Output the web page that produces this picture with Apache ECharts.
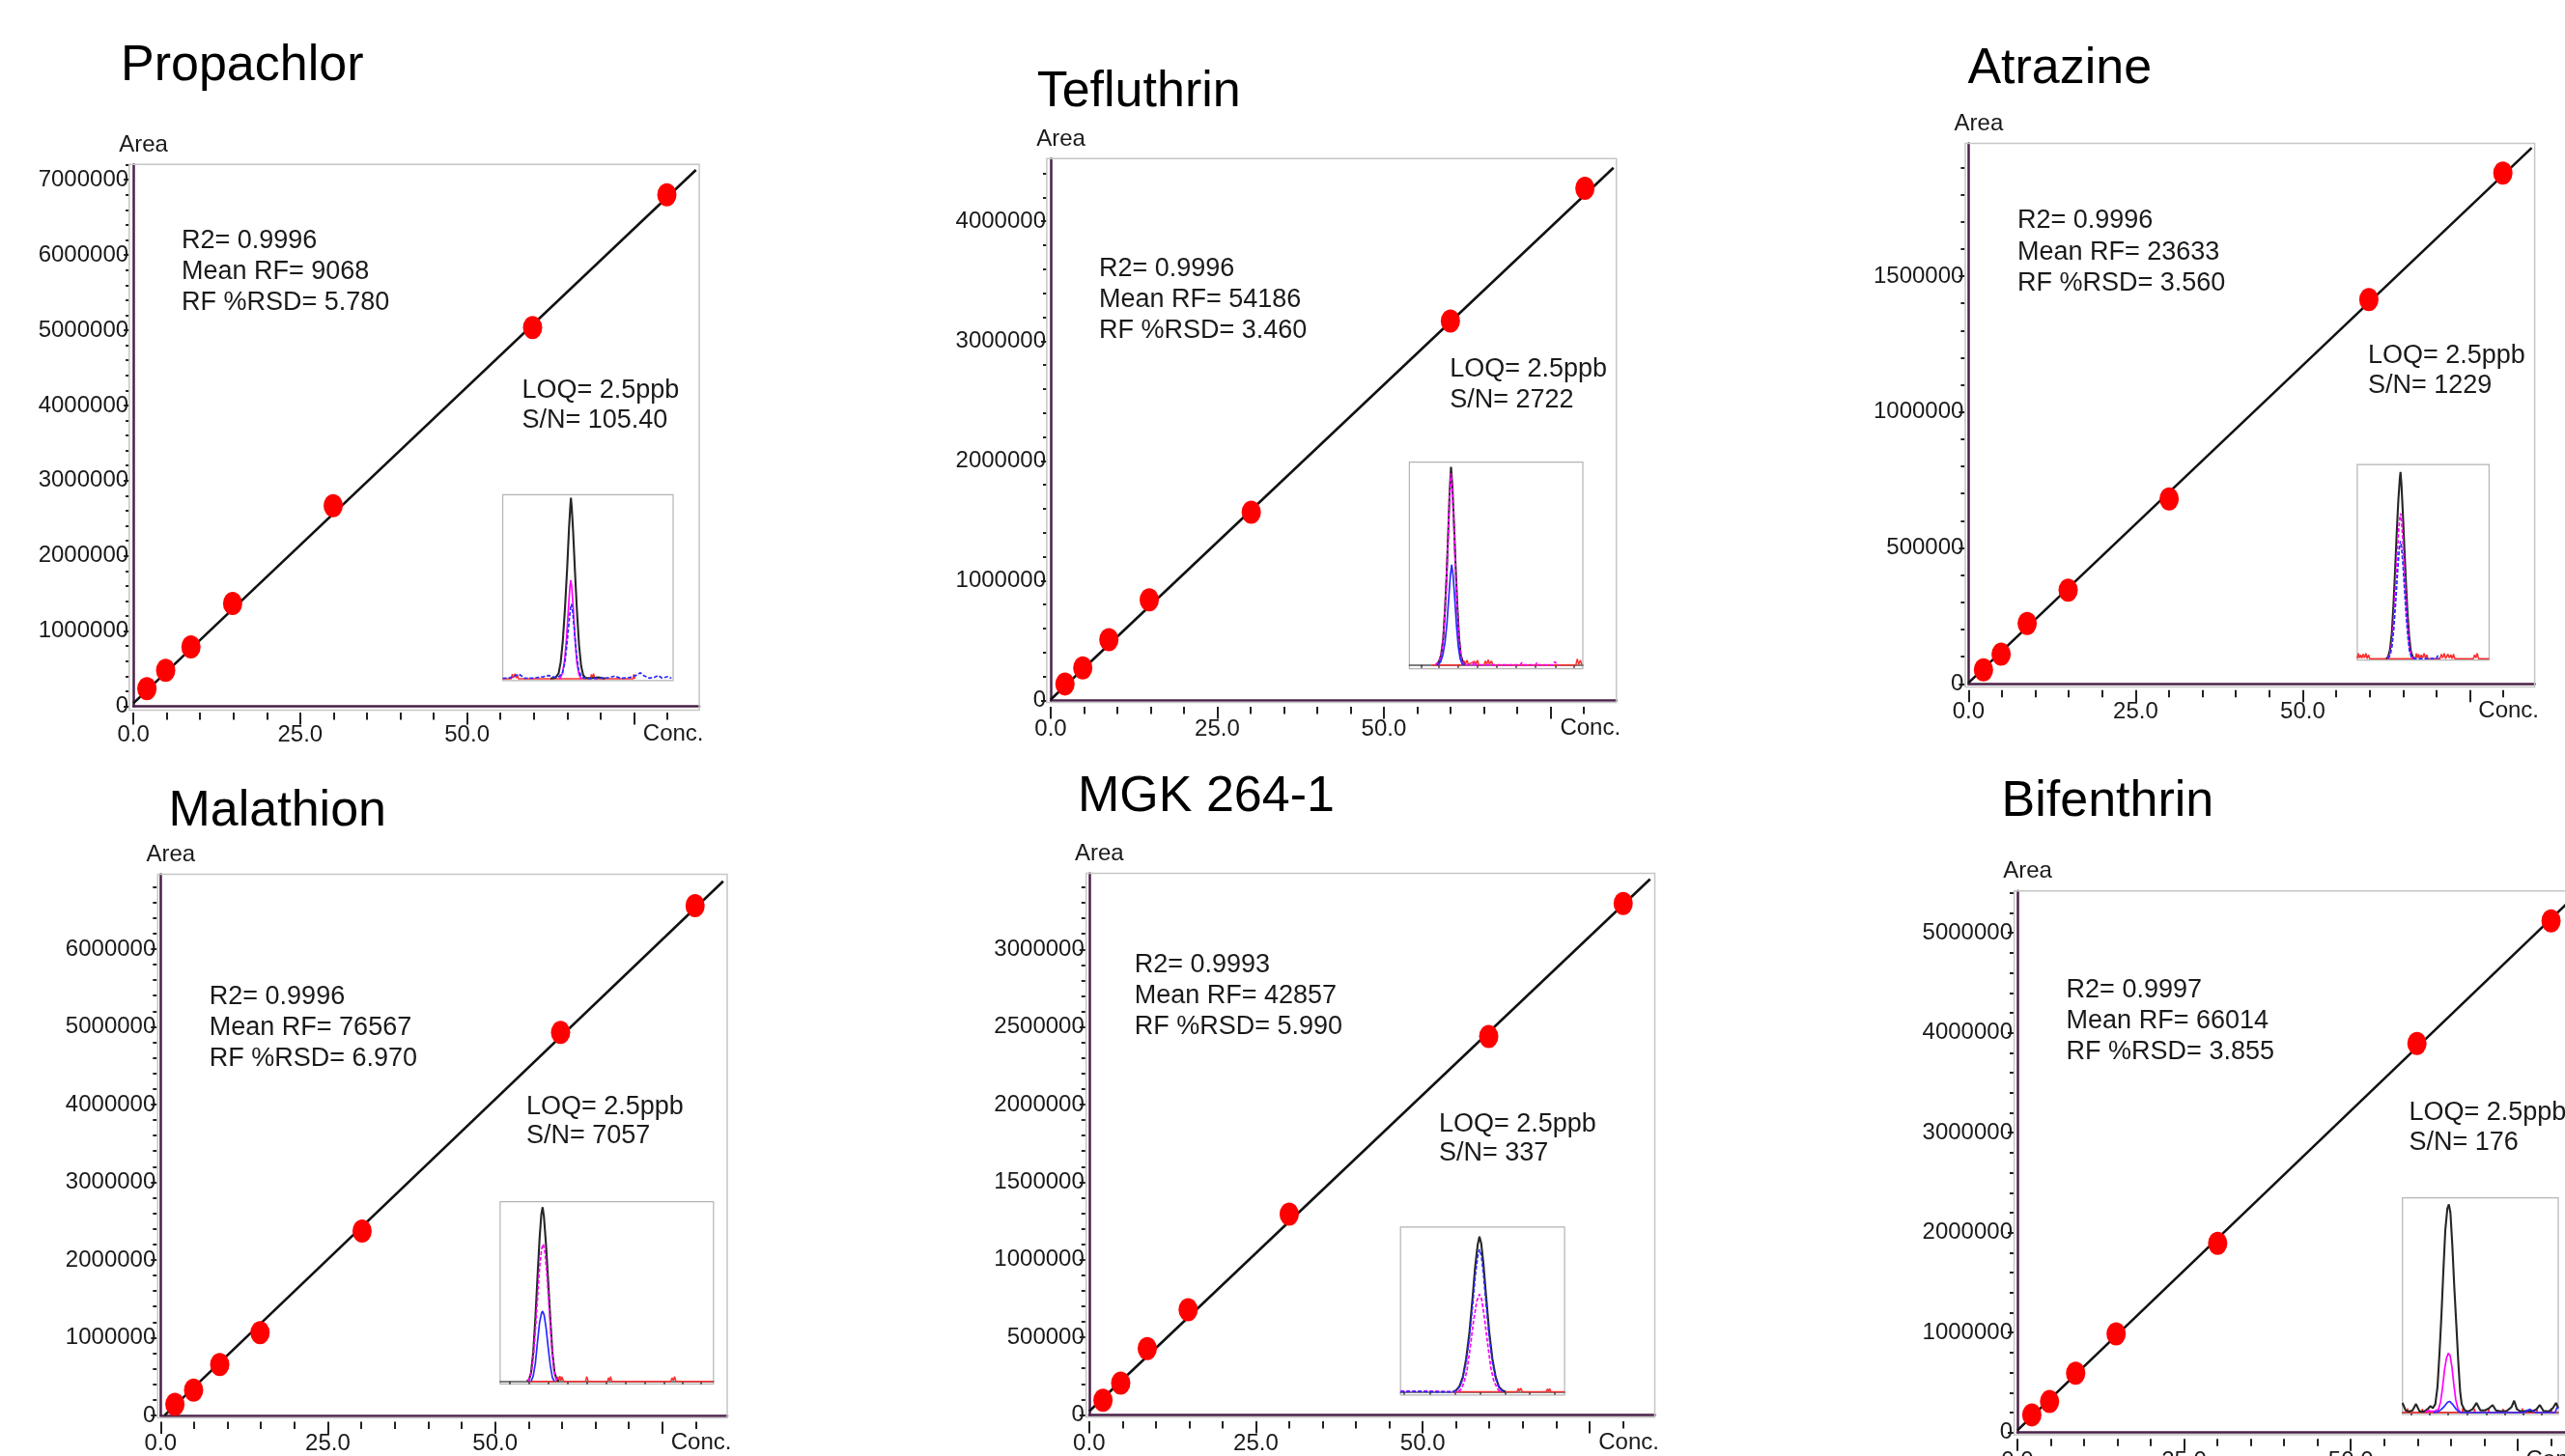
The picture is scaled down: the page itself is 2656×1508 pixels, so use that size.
<!DOCTYPE html>
<html>
<head>
<meta charset="utf-8">
<script src="https://cdn.jsdelivr.net/npm/echarts/dist/echarts.min.js"></script>
<style>html,body{margin:0;padding:0;background:#fff;}#chart{width:2656px;height:1508px;}</style>
</head>
<body>
<div id="chart"></div>
<script>
// ---------------- DATA ----------------
const compounds = ['Propachlor', 'Tefluthrin', 'Atrazine', 'Malathion', 'MGK 264-1', 'Bifenthrin'];

const concPropachlor = [2.03, 4.84, 8.63, 14.87, 29.94, 59.82, 79.94];
const areaPropachlor = [233000, 479000, 790000, 1366000, 2668000, 5036000, 6800000];
const fitPropachlor = [[0, 40000], [84.3, 7130000]];
const statsPropachlor = ['R2= 0.9996', 'Mean RF= 9068', 'RF %RSD= 5.780'];
const loqPropachlor = ['LOQ= 2.5ppb', 'S/N= 105.40'];

const concTefluthrin = [2.14, 4.81, 8.73, 14.79, 30.10, 59.99, 80.18];
const areaTefluthrin = [138000, 272000, 508000, 841000, 1572000, 3168000, 4276000];
const fitTefluthrin = [[0, 8000], [84.47, 4447000]];
const statsTefluthrin = ['R2= 0.9996', 'Mean RF= 54186', 'RF %RSD= 3.460'];
const loqTefluthrin = ['LOQ= 2.5ppb', 'S/N= 2722'];

const concAtrazine = [2.23, 4.87, 8.77, 14.90, 30.01, 59.89, 79.94];
const areaAtrazine = [52000, 109000, 222000, 345000, 680000, 1414000, 1879000];
const fitAtrazine = [[0, 4000], [84.26, 1972000]];
const statsAtrazine = ['R2= 0.9996', 'Mean RF= 23633', 'RF %RSD= 3.560'];
const loqAtrazine = ['LOQ= 2.5ppb', 'S/N= 1229'];

const concMalathion = [2.14, 4.93, 8.84, 14.87, 30.12, 59.79, 79.90];
const areaMalathion = [142000, 324000, 654000, 1064000, 2372000, 4926000, 6559000];
const fitMalathion = [[0.6, 0], [84.1, 6871000]];
const statsMalathion = ['R2= 0.9996', 'Mean RF= 76567', 'RF %RSD= 6.970'];
const loqMalathion = ['LOQ= 2.5ppb', 'S/N= 7057'];

const concMGK = [2.07, 4.73, 8.71, 14.84, 29.99, 59.90, 80.06];
const areaMGK = [94000, 205000, 427000, 678000, 1293000, 2439000, 3296000];
const fitMGK = [[0, 23000], [84.1, 3453000]];
const statsMGK = ['R2= 0.9993', 'Mean RF= 42857', 'RF %RSD= 5.990'];
const loqMGK = ['LOQ= 2.5ppb', 'S/N= 337'];

const concBifenthrin = [2.16, 4.82, 8.73, 14.80, 30.03, 59.92, 80.03];
const areaBifenthrin = [177000, 310000, 593000, 987000, 1894000, 3894000, 5119000];
const fitBifenthrin = [[0, 22000], [84.7, 5440000]];
const statsBifenthrin = ['R2= 0.9997', 'Mean RF= 66014', 'RF %RSD= 3.855'];
const loqBifenthrin = ['LOQ= 2.5ppb', 'S/N= 176'];

// axes
const xTickValues = [0, 25, 50];
const xTickLabels = ['0.0', '25.0', '50.0'];
const xMajorTicks = [0, 25, 50, 75];
const xMinorStep = 5;
const xAxisName = 'Conc.';
const yAxisName = 'Area';
const xMaxes = [84.8, 84.9, 84.7, 84.7, 84.8, 84.7];
const yMaxes = [7204000, 4524000, 1988000, 6963000, 3490000, 5419000];
const yIntervals = [1000000, 1000000, 500000, 1000000, 500000, 1000000];

// inset chromatograms (normalised time 0-100, intensity 0-100)
const redPropachlor = [[0,0],[5,0],[5.6,2.6],[6.2,0.4],[7.2,2.8],[8,0.4],[8.6,2.2],[9.2,0],[51.5,0],[52,2.5],[52.6,0.4],[53.3,2.8],[54,0],[76.5,0],[77,2.4],[77.6,0]];
const blackPropachlor = [[28,0.2],[31,0.6],[32.8,3],[34,9],[35.2,20],[36.5,38],[37.8,60],[38.9,82],[39.6,93],[40,98.3],[40.5,93],[41.3,80],[42.4,58],[43.6,36],[44.8,18],[46,7],[47.2,2],[48.5,0.6],[52,0.3],[56,0.8],[60,0.2]];
const magentaPropachlor = [[33.5,0],[35,3],[36.3,10],[37.5,23],[38.6,39],[39.4,50],[39.9,53.6],[40.5,50],[41.4,38],[42.4,22],[43.5,9],[44.7,2.5],[46,0]];
const bluePropachlor = [[0,0.3],[4,0.5],[7,1.5],[9.4,2.6],[11,1.6],[13,0.3],[18,0.4],[21,0.8],[24,1.2],[27,1.8],[30,0.9],[33,1.2],[35,3],[36.5,9],[37.8,20],[39,32],[39.8,38.5],[40.3,40.7],[41,37],[42,27],[43.2,14],[44.5,5],[46,1.2],[48,0.3],[55,0.2],[62,0.6],[65.8,1.5],[69,0.3],[74,0.6],[78,1.8],[80.8,3.3],[83,1.6],[86,0.4],[89,0.8],[91.2,1.8],[93.5,0.4],[96.8,1.2],[99,0.3]];

const redTefluthrin = [[13,0],[30.8,0],[31.5,2],[32.3,0.4],[33.2,2.4],[34,0.3],[35,0],[37.5,1.8],[38.3,0.4],[39.2,2.4],[40,0],[43,0],[43.8,2],[44.6,0.4],[45.4,2.6],[46.2,0.3],[47.3,2],[48.2,0],[96,0],[96.8,3],[97.6,0.3],[98.6,2.4],[99.4,0]];
const blackTefluthrin = [[15.5,0],[17,1.5],[18.3,5],[19.5,13],[20.5,27],[21.5,45],[22.4,66],[23.2,85],[24,97.6],[24.8,88],[25.7,70],[26.6,50],[27.6,30],[28.6,14],[29.6,5],[30.8,1.5],[32,0]];
const magentaTefluthrin = [[15,0],[16.8,1.5],[18.2,4.5],[19.4,12],[20.4,25],[21.4,42],[22.3,63],[23.1,82],[24,94.5],[24.8,85],[25.7,67],[26.6,47],[27.6,28],[28.6,13],[29.6,4.5],[30.8,1.2],[32,0],[36.5,0],[37.2,1.5],[38,0],[64,0],[64.8,1.2],[65.6,0],[72.8,0],[73.4,1],[74,0],[82.8,0],[83.8,1.6],[84.8,0.6],[86,0]];
const blueTefluthrin = [[16.5,0],[18,1.5],[19.3,5],[20.5,11],[21.6,20],[22.6,32],[23.6,44],[24.4,49.4],[25.2,44],[26.2,32],[27.2,19],[28.2,9],[29.3,3],[30.5,0.5],[31.5,0]];

const redAtrazine = [[0,0],[0.8,2.8],[1.6,0.4],[2.6,2],[3.4,0.2],[4.6,2.4],[5.4,0.4],[6.6,2.8],[7.4,0],[8.6,2],[9.4,0],[44,0],[44.8,2.8],[45.6,0.4],[46.6,2.4],[47.4,0],[48.6,2],[49.6,0.4],[50.8,2.8],[51.8,0],[52.8,2],[53.6,0],[62.8,0],[63.8,2.4],[64.8,0.4],[66,2.8],[67,0],[68.8,2.4],[69.8,0.4],[71,2],[72,0],[73,2.4],[74,0],[88,0],[89,2],[90,0.4],[91,2.8],[92,0],[100,0]];
const blackAtrazine = [[22,0],[23.4,1],[24.8,4.5],[26.2,13],[27.5,28],[28.8,47],[30,66],[31.2,82],[32.2,92],[32.8,96.2],[33.5,90],[34.5,76],[35.6,59],[36.8,41],[38,25],[39.3,12],[40.6,4],[42,1],[43.5,0]];
const magentaAtrazine = [[23,0],[24.5,2],[26,7],[27.4,18],[28.8,35],[30.2,53],[31.5,67],[32.4,73],[32.9,74.8],[33.6,71],[34.6,60],[35.8,45],[37,30],[38.3,16],[39.6,6],[41,1.5],[42.5,0]];
const blueAtrazine = [[23.5,0],[25,2],[26.4,6.5],[27.8,16],[29.2,30],[30.6,45],[31.8,56],[32.7,60.6],[33.5,58],[34.6,49],[35.8,36],[37,23],[38.3,12],[39.6,4],[41,1],[42.5,0],[60,0],[61,1.5],[62,0]];

const redMalathion = [[13.9,0],[26.5,0],[27,2.5],[27.5,0.5],[28,3],[28.5,0.5],[29,2.5],[29.7,0],[40,0],[40.6,2.7],[41.3,0],[50.3,0],[50.8,2],[51.3,0.5],[51.8,2.7],[52.3,0],[80,0],[80.6,2],[81.2,0.5],[81.8,2.7],[82.4,0],[99.7,0]];
const blackMalathion = [[12.5,0],[13.6,1],[14.5,5],[15.5,16],[16.5,35],[17.5,58],[18.5,80],[19.3,93],[19.9,97],[20.5,92],[21.5,76],[22.5,56],[23.5,35],[24.5,16],[25.5,5],[26.5,1],[27.5,0]];
const magentaMalathion = [[13,0],[14.5,4],[15.5,13],[16.5,28],[17.5,46],[18.5,64],[19.5,74],[20.2,76.5],[21,72],[22,58],[23,40],[24,22],[25,8],[26,2],[27,0]];
const blueMalathion = [[14.5,0],[15.5,3],[16.5,10],[17.5,22],[18.5,33],[19.4,38],[19.9,39.1],[20.6,37],[21.5,30],[22.5,19],[23.5,9],[24.5,2],[25.5,0]];

const redMGK = [[33,0],[71,0],[71.8,2],[72.5,0.5],[73.3,2.2],[74.3,0],[88.9,0],[89.5,1.8],[90.2,0.4],[90.9,2],[91.5,0],[100,0]];
const blackMGK = [[32,0],[34,1],[36,3.5],[38,9],[40,20],[42,36],[44,58],[45.5,76],[47,89],[48.1,94.2],[49.2,90],[50.5,78],[52,60],[54,37],[56,20],[58,9],[60,3],[62,1],[64,0]];
const magentaMGK = [[0,0.5],[8,0.3],[16,0.5],[24,0.3],[34,0],[36.4,1],[38.5,5],[40.5,13],[42.5,27],[44.5,43],[46.5,55],[48,59.2],[49.5,56],[51,46],[53,30],[55,15],[57,6],[59.7,1],[62,0]];
const blueMGK = [[0,0],[10,0.3],[20,0],[32,0],[34,1],[36,3],[38,8],[40,18],[42,33],[44,53],[45.5,70],[47,82],[48.1,86.4],[49.2,83],[50.5,72],[52,55],[54,34],[56,18],[58,8],[60,2.5],[62,0.5],[64,0]];

const redBifenthrin = [[0,0],[2.9,0],[3.3,2],[3.7,0],[12.5,0],[12.8,1.8],[13.2,0],[38.3,0],[38.6,2],[39,0],[46,0],[46.3,1.8],[46.7,0],[55,0],[55.3,2],[55.7,0],[64.2,0],[64.5,1.8],[64.9,0],[76.6,0],[76.9,2],[77.3,0],[86,0],[86.3,1.8],[86.7,0],[95.2,0],[95.5,2],[95.9,0],[100,0]];
const blackBifenthrin = [[0,4.5],[2,1],[4,0.5],[6.5,1],[8.7,4],[11,0.5],[14,0.5],[16,1.5],[18,3],[19.5,2],[21.1,4],[22.5,12],[23.8,28],[25,45],[26.2,65],[27.5,85],[28.8,95],[29.8,97],[30.8,93],[32,78],[33.3,58],[34.5,42],[35.8,24],[37,10],[38,4],[40,1],[42,0.5],[45,1.5],[47.5,4.5],[50,1],[53,1],[55.5,2],[57.9,3.5],[60,1],[63,0.5],[67,0.8],[70,2.5],[71.7,5.5],[73.5,1.5],[76,0.5],[80,0.8],[83,0.5],[86,1.5],[88.2,3.5],[90.5,0.8],[94,0.5],[96.5,2],[98.6,4.5],[100,2]];
const magentaBifenthrin = [[14.5,0],[16.5,1],[18.5,0.5],[21,0.8],[23.1,1.5],[24.5,5],[25.8,12],[27,20],[28.3,25.5],[29.5,27.7],[30.6,26.5],[31.8,21],[33,13],[34.2,6],[35.5,2],[36.6,0.5],[38,0]];
const blueBifenthrin = [[20,0],[23.1,0.5],[25,1.5],[27,3],[29,4.8],[30.3,5.2],[32,4],[34,2],[36,0.5],[38,0],[78,0],[80,1],[82,1.5],[84,0.5],[86,0],[98,0],[99,2],[100,2.5]];

const insetTicksPropachlor = [];
const insetTicksTefluthrin = [6.8, 17.0, 28.0, 39.1, 50.2, 61.6, 72.7, 84.3, 95.0];
const insetTicksAtrazine = [];
const insetTicksMalathion = [4.5, 13.6, 22.6, 31.6, 40.7, 49.7, 58.7, 67.8, 76.8, 85.4, 94.0];
const insetTicksMGK = [2.3, 17.9, 33.1, 48.6, 63.6, 78.6, 93.8];
const insetTicksBifenthrin = [5.6, 17.4, 29.3, 41.3, 53.7, 65.5, 77.3, 89.3];

// ---------------- ASSEMBLY ----------------
const panels = [
  {conc: concPropachlor, area: areaPropachlor, fit: fitPropachlor, stats: statsPropachlor, loq: loqPropachlor,
   tr: [redPropachlor, blackPropachlor, magentaPropachlor, bluePropachlor], ticks: insetTicksPropachlor},
  {conc: concTefluthrin, area: areaTefluthrin, fit: fitTefluthrin, stats: statsTefluthrin, loq: loqTefluthrin,
   tr: [redTefluthrin, blackTefluthrin, magentaTefluthrin, blueTefluthrin], ticks: insetTicksTefluthrin},
  {conc: concAtrazine, area: areaAtrazine, fit: fitAtrazine, stats: statsAtrazine, loq: loqAtrazine,
   tr: [redAtrazine, blackAtrazine, magentaAtrazine, blueAtrazine], ticks: insetTicksAtrazine},
  {conc: concMalathion, area: areaMalathion, fit: fitMalathion, stats: statsMalathion, loq: loqMalathion,
   tr: [redMalathion, blackMalathion, magentaMalathion, blueMalathion], ticks: insetTicksMalathion},
  {conc: concMGK, area: areaMGK, fit: fitMGK, stats: statsMGK, loq: loqMGK,
   tr: [redMGK, blackMGK, magentaMGK, blueMGK], ticks: insetTicksMGK},
  {conc: concBifenthrin, area: areaBifenthrin, fit: fitBifenthrin, stats: statsBifenthrin, loq: loqBifenthrin,
   tr: [redBifenthrin, blackBifenthrin, magentaBifenthrin, blueBifenthrin], ticks: insetTicksBifenthrin}
];

// layout (pixels)
const layout = [
  {grid:[138.1,170.3,724.1,731.5], frame:[133.8,170.3,724.1,735.5], title:[125,84.6], stats:[188,247.9,280.1,312.4], loq:[540.4,403,434.3], inset:[520.6,512.4,697,704.8], iymin:-0.9, mDash:false, bDash:true, iLine:false},
  {grid:[1088,164.2,1673.7,725.5], frame:[1083.9,164.2,1673.7,727.5], title:[1073.7,111.8], stats:[1138,277.1,308.8,341.6], loq:[1501.2,381.4,413.1], inset:[1459.4,478.6,1639,692.7], iymin:-1.9, mDash:true, bDash:false, iLine:true},
  {grid:[2038.4,148.6,2624.6,708.3], frame:[2035,148.6,2624.6,711.4], title:[2037.4,88.2], stats:[2089,227.7,260,292.2], loq:[2452,367.3,398.5], inset:[2440.9,481.1,2577.4,683.6], iymin:-0.7, mDash:true, bDash:true, iLine:false},
  {grid:[166.3,905.4,753,1465.9], frame:[163.3,905.4,753,1468.6], title:[174.5,856.4], stats:[216.8,1031.3,1063.4,1095.4], loq:[544.9,1144.9,1175.6], inset:[517.9,1244.7,738.8,1433.3], iymin:-1.4, mDash:true, bDash:false, iLine:true},
  {grid:[1127.8,904.5,1713.5,1465.4], frame:[1124.7,904.5,1713.5,1467.7], title:[1116,841.3], stats:[1174.7,998.3,1030.4,1062.5], loq:[1490,1163.2,1193], inset:[1450.2,1270.8,1620.1,1444.8], iymin:-1.9, mDash:true, bDash:true, iLine:true},
  {grid:[2089,922.8,2673.8,1483.7], frame:[2085.6,922.8,2673.8,1486], title:[2072.6,847.2], stats:[2139.6,1024.4,1056.5,1088.6], loq:[2494.4,1151.7,1182.4], inset:[2487.7,1240.7,2649,1465], iymin:-0.9, mDash:false, bDash:false, iLine:true}
];

const FONT = "'Liberation Sans', Arial, Helvetica, sans-serif";
const PURPLE = '#4a2148';
const TICK = '#222';
const TXT = '#1a1a1a';

const option = {
  animation: false,
  backgroundColor: '#ffffff',
  textStyle: {fontFamily: FONT},
  grid: [], xAxis: [], yAxis: [], series: [], graphic: []
};

panels.forEach((p, i) => {
  const L = layout[i];
  const [gl, gt, gr, gb] = L.grid;
  const gi = option.grid.length;
  option.grid.push({left: gl, top: gt, width: gr - gl, height: gb - gt, show: false, containLabel: false, outerBoundsMode: 'none'});

  const xMax = xMaxes[i], yMax = yMaxes[i], yStep = yIntervals[i];
  const xMinor = [];
  for (let v = xMinorStep; v < xMax; v += xMinorStep) if (v % 25 !== 0) xMinor.push(v);
  const yMajor = [];
  for (let v = 0; v <= yMax; v += yStep) yMajor.push(v);
  const yMinor = [];
  for (let v = yStep / 5; v < yMax; v += yStep / 5) if (Math.abs(v / yStep - Math.round(v / yStep)) > 1e-6) yMinor.push(v);

  const baseX = {type: 'value', gridIndex: gi, position: 'bottom', min: 0, max: xMax,
    splitLine: {show: false}, axisLabel: {show: false}, axisTick: {show: false},
    axisLine: {show: false, onZero: false}};
  const xi = option.xAxis.length;
  option.xAxis.push(Object.assign({}, baseX, {axisLine: {show: true, onZero: false, lineStyle: {color: PURPLE, width: 2.5}}}));
  option.xAxis.push(Object.assign({}, baseX, {
    offset: 6.5,
    axisTick: {show: true, customValues: xMajorTicks, length: 12.5, lineStyle: {color: TICK, width: 2}},
    axisLabel: {show: true, customValues: xTickValues, formatter: v => xTickLabels[xTickValues.indexOf(v)],
      fontSize: 24, color: TXT, margin: 11, fontFamily: FONT},
    name: xAxisName, nameLocation: 'end', nameGap: 4.4, nameMoveOverlap: false,
    nameTextStyle: {fontSize: 24, color: TXT, align: 'right', verticalAlign: 'top', padding: [10, 0, 0, 0], fontFamily: FONT}
  }));
  option.xAxis.push(Object.assign({}, baseX, {
    offset: 6.5,
    axisTick: {show: true, customValues: xMinor, length: 7.5, lineStyle: {color: TICK, width: 2}}
  }));

  const baseY = {type: 'value', gridIndex: gi, position: 'left', min: 0, max: yMax,
    splitLine: {show: false}, axisLabel: {show: false}, axisTick: {show: false},
    axisLine: {show: false, onZero: false}};
  const yi = option.yAxis.length;
  option.yAxis.push(Object.assign({}, baseY, {
    axisLine: {show: true, onZero: false, lineStyle: {color: PURPLE, width: 2.5}},
    name: yAxisName, nameLocation: 'end', nameGap: 8, nameMoveOverlap: false,
    nameTextStyle: {fontSize: 24, color: TXT, align: 'center', verticalAlign: 'bottom', padding: [0, 0, 0, 21], fontFamily: FONT}
  }));
  option.yAxis.push(Object.assign({}, baseY, {
    offset: 4,
    axisTick: {show: true, customValues: yMajor, length: 6, lineStyle: {color: TICK, width: 2}},
    axisLabel: {show: true, customValues: yMajor, formatter: v => String(Math.round(v)),
      fontSize: 24, color: TXT, margin: 1, fontFamily: FONT}
  }));
  option.yAxis.push(Object.assign({}, baseY, {
    offset: 4,
    axisTick: {show: true, customValues: yMinor, length: 4, lineStyle: {color: TICK, width: 2}}
  }));

  option.series.push({type: 'line', name: compounds[i] + ' fit', xAxisIndex: xi, yAxisIndex: yi, data: p.fit,
    symbol: 'none', silent: true, clip: true, z: 2, lineStyle: {color: '#111', width: 2.6}});
  option.series.push({type: 'scatter', name: compounds[i], xAxisIndex: xi, yAxisIndex: yi,
    data: p.conc.map((c, k) => [c, p.area[k]]), symbol: 'circle', symbolSize: [20, 24],
    itemStyle: {color: '#ff0000', opacity: 1}, z: 3, clip: false});

  // frame
  const [fl, ft, fr, fb] = L.frame;
  option.graphic.push({type: 'rect', z: 1, silent: true, shape: {x: fl, y: ft, width: fr - fl, height: fb - ft},
    style: {fill: 'none', stroke: '#c6c6c6', lineWidth: 1.5}});

  // title & annotations
  const txt = (s, x, y, size, color) => ({type: 'text', z: 10, silent: true, x: x, y: y,
    style: {text: s, font: size + 'px ' + FONT, fill: color, align: 'left', verticalAlign: 'middle', textAlign: 'left', textVerticalAlign: 'middle'}});
  option.graphic.push(txt(compounds[i], L.title[0], L.title[1] - 0.31 * 52, 52, '#000'));
  p.stats.forEach((s, k) => option.graphic.push(txt(s, L.stats[0], L.stats[k + 1] + 1.3, 27, TXT)));
  p.loq.forEach((s, k) => option.graphic.push(txt(s, L.loq[0], L.loq[k + 1] + 1.3, 27, TXT)));

  // inset
  const [il, it, ir, ib] = L.inset;
  const ig = option.grid.length;
  option.grid.push({left: il, top: it, width: ir - il, height: ib - it, show: true, backgroundColor: '#fff',
    borderColor: '#b4b4b4', borderWidth: 1.2, containLabel: false, outerBoundsMode: 'none'});
  const ix = option.xAxis.length;
  option.xAxis.push({type: 'value', gridIndex: ig, position: 'bottom', min: 0, max: 100, splitLine: {show: false},
    axisLabel: {show: false},
    axisLine: {show: L.iLine, onZero: true, lineStyle: {color: '#555', width: 1.5}},
    axisTick: {show: p.ticks.length > 0, customValues: p.ticks, length: 3, inside: false, lineStyle: {color: '#333', width: 1.5}}});
  const iy = option.yAxis.length;
  option.yAxis.push({type: 'value', gridIndex: ig, position: 'left', min: L.iymin, max: 100, show: false, splitLine: {show: false}});
  const colors = ['#ff3030', '#262626', '#ff00ff', '#2a2aff'];
  const widths = [1.5, 2.1, 1.7, 1.7];
  p.tr.forEach((d, k) => {
    let type = 'solid';
    if (k === 2 && L.mDash) type = [4, 2];
    if (k === 3 && L.bDash) type = [4, 2];
    option.series.push({type: 'line', xAxisIndex: ix, yAxisIndex: iy, data: d, symbol: 'none', silent: true,
      z: 4 + k, lineStyle: {color: colors[k], width: widths[k], type: type}});
  });
});

const chart = echarts.init(document.getElementById('chart'), null, {renderer: 'canvas', width: 2656, height: 1508});
chart.setOption(option);
</script>
</body>
</html>
